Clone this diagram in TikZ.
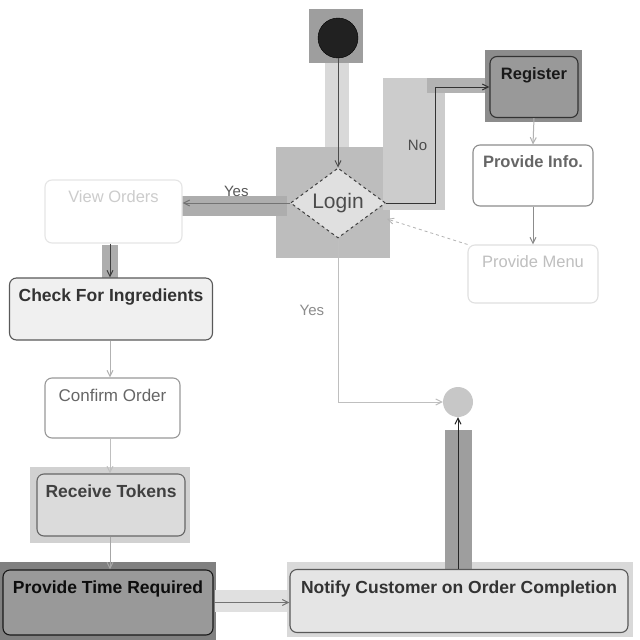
\documentclass[tikz,border=0pt]{standalone}
\usepackage{fontspec}
\setmainfont{Liberation Sans}
\usetikzlibrary{arrows.meta,shapes.geometric,calc}
\begin{document}
\begin{tikzpicture}[x=1pt,y=-1pt,
  hl/.style={fill=#1,draw=none},
  act/.style={draw=#1,rounded corners=7pt,line width=1.1pt,inner sep=0pt},
  lbl/.style={anchor=north,yshift=-8pt,font=\fontsize{17.5}{19}\selectfont\bfseries,text=#1},
  flow/.style={draw=#1,line width=1pt,-{Straight Barb[length=6pt,width=6pt]}},
]
\useasboundingbox (0,0) rectangle (640,640);
\fill[white] (0,0) rectangle (640,640);
% highlight boxes
\fill[hl=black!38] (309,9) rectangle (363,63);
\fill[hl=black!15] (325,63) rectangle (349,165);
\fill[hl=black!26] (276,147) rectangle (390,258);
\fill[hl=black!20] (383,78) rectangle (445,210);
\fill[hl=black!30] (427,78) rectangle (487,93);
\fill[hl=black!45] (485,50) rectangle (582,122);
\fill[hl=black!32] (182,196) rectangle (287,216);
\fill[hl=black!32] (102,245) rectangle (118,278);
\fill[hl=black!18] (30,467) rectangle (190,543);
\fill[hl=black!50] (0,562) rectangle (216,640);
\fill[hl=black!12] (215,590) rectangle (288,612);
\fill[hl=black!15] (287,562) rectangle (633,637);
\fill[hl=black!38] (445,430) rectangle (472,570);

% nodes
\node[circle,fill=black!87,draw=black,minimum size=40pt,inner sep=0pt] (start) at (338,38) {};
\node[diamond,draw=black!75,dashed,line width=1pt,fill=black!12,minimum width=95pt,minimum height=70pt,inner sep=0pt,aspect=1.35,font=\fontsize{21}{23}\selectfont,text=black!70] (login) at (338,203) {Login};
\node[act=black!80,fill=black!40,minimum width=88pt,minimum height=61pt,label={[lbl=black!90,font=\fontsize{16.5}{18}\selectfont\bfseries]north:Register}] (register) at (534,87) {};
\node[act=black!45,fill=white,minimum width=120pt,minimum height=61pt,label={[lbl=black!60,font=\fontsize{16.5}{18}\selectfont\bfseries]north:Provide Info.}] (info) at (533,175.5) {};
\node[act=black!12,fill=white,minimum width=130pt,minimum height=58pt,label={[lbl=black!25,font=\fontsize{16.5}{18}\selectfont]north:Provide Menu}] (menu) at (533,274) {};
\node[act=black!10,fill=white,minimum width=137pt,minimum height=63pt,label={[lbl=black!20,font=\fontsize{16.5}{18}\selectfont]north:View Orders}] (view) at (113.5,211.5) {};
\node[act=black!65,fill=black!6,minimum width=203pt,minimum height=62pt,label={[lbl=black!80]north:Check For Ingredients}] (check) at (111,309) {};
\node[act=black!40,fill=white,minimum width=135pt,minimum height=60pt,label={[lbl=black!60,font=\fontsize{17}{19}\selectfont]north:Confirm Order}] (confirm) at (112.5,408) {};
\node[act=black!60,fill=black!14,minimum width=148pt,minimum height=62pt,label={[lbl=black!75]north:Receive Tokens}] (tokens) at (111,505) {};
\node[act=black!90,fill=black!40,minimum width=210pt,minimum height=65pt,label={[lbl=black!95]north:Provide Time Required}] (time) at (108,602.5) {};
\node[act=black!65,fill=black!10,minimum width=338pt,minimum height=63pt,label={[lbl=black!80]north:Notify Customer on Order Completion}] (notify) at (459,601) {};
\node[circle,fill=black!22,draw=none,minimum size=30pt,inner sep=0pt] (final) at (458,402) {};
\coordinate (dashend) at (387,219);
\coordinate (colx) at (110,0);

% connectors
\draw[flow=black!70] (start) -- (login.north);
\draw[flow=black!80] (login.east) -- ++(49,0) |- (register.west) node[pos=0.25,left=4pt,text=black!70,font=\fontsize{15}{17}\selectfont] {No};
\draw[flow=black!30] (register.south) -- (info.north);
\draw[flow=black!45] (info.south) -- (menu.north);
\draw[flow=black!30,line width=0.8pt,dashed] (menu.north west) -- (dashend);
\draw[flow=black!55] (login.west) -- (login.west -| view.east) node[midway,above=3pt,text=black!65,font=\fontsize{15}{17}\selectfont] {Yes};
\draw[flow=black!75] (view.south -| colx) -- (check.north -| colx);
\draw[flow=black!30] (check.south -| colx) -- (confirm.north -| colx);
\draw[flow=black!25] (confirm.south -| colx) -- (tokens.north -| colx);
\draw[flow=black!35] (tokens.south -| colx) -- (time.north -| colx);
\draw[flow=black!55] (time.east) -- (time.east -| notify.west);
\draw[flow=black!85] (final.south |- notify.north) -- (final.south);
\draw[flow=black!25] (login.south) |- (final.west) node[pos=0.22,left=10pt,text=black!45,font=\fontsize{15}{17}\selectfont] {Yes};
\end{tikzpicture}
\end{document}
